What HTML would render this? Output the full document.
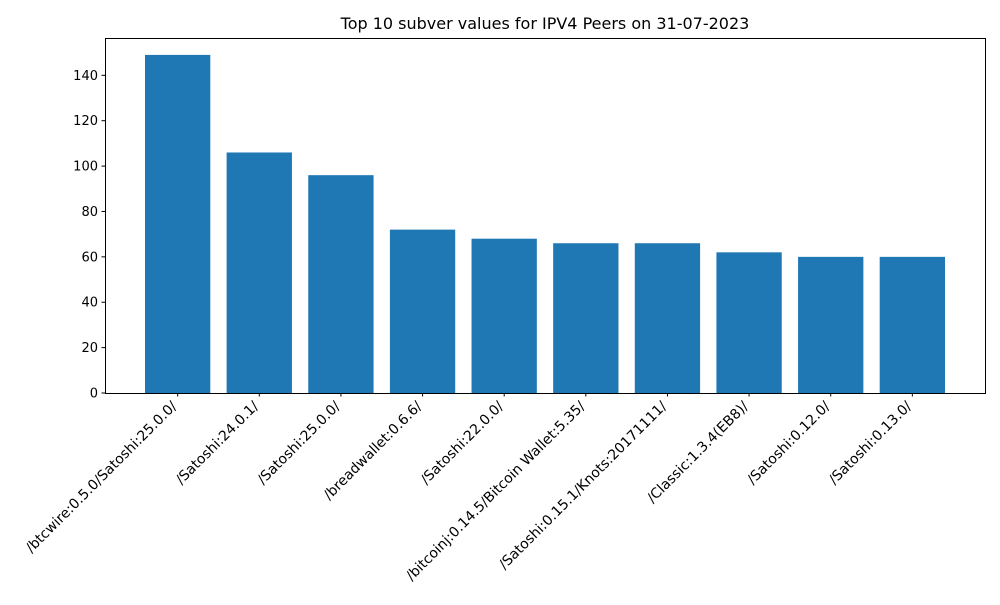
<!DOCTYPE html>
<html><head><meta charset="utf-8"><style>
body{margin:0;background:#fff;}
text{font-family:"DejaVu Sans","Liberation Sans",sans-serif;fill:#000;}
</style></head><body>
<svg id="chart" width="1000" height="600" xmlns="http://www.w3.org/2000/svg">
<text x="545" y="29" font-size="16" text-anchor="middle">Top 10 subver values for IPV4 Peers on 31-07-2023</text>
<g id="bars"></g><g id="yaxis"></g><g id="xaxis"></g>
<rect x="105.5" y="38.5" width="880" height="355" fill="none" stroke="#000" stroke-width="1"/>
</svg>
<script>
const categories=["/btcwire:0.5.0/Satoshi:25.0.0/","/Satoshi:24.0.1/","/Satoshi:25.0.0/","/breadwallet:0.6.6/","/Satoshi:22.0.0/","/bitcoinj:0.14.5/Bitcoin Wallet:5.35/","/Satoshi:0.15.1/Knots:20171111/","/Classic:1.3.4(EB8)/","/Satoshi:0.12.0/","/Satoshi:0.13.0/"];
const values=[149,106,96,72,68,66,66,62,60,60];
const yTicks=[0,20,40,60,80,100,120,140];
const NS="http://www.w3.org/2000/svg";
const plotL=105,plotR=985,plotT=38,plotB=393;
const yMax=Math.max(...values)*1.05;
const xMin=-0.89,xMax=categories.length-1+0.89;
const xs=i=>plotL+(i-xMin)/(xMax-xMin)*(plotR-plotL);
const ys=v=>plotB-v/yMax*(plotB-plotT);
const pxPer=(plotR-plotL)/(xMax-xMin);
function mk(t,a,p){const e=document.createElementNS(NS,t);for(const k in a)e.setAttribute(k,a[k]);p.appendChild(e);return e;}
const gb=document.getElementById('bars'),gy=document.getElementById('yaxis'),gx=document.getElementById('xaxis');
values.forEach((v,i)=>{
 const r=mk('rect',{x:xs(i)-0.4*pxPer,y:ys(v),width:0.8*pxPer,height:plotB-ys(v),fill:'#1f77b4'},gb);
 
 
});
yTicks.forEach(t=>{
 const y=ys(t);
 const l=mk('line',{x1:plotL-3.5,x2:plotL,y1:y,y2:y,stroke:'#000'},gy);
 
 
 const tx=mk('text',{x:plotL-7,y:y+4.5,'font-size':13,'text-anchor':'end'},gy);
 tx.textContent=t;
 
 
});
categories.forEach((c,i)=>{
 const x=xs(i);
 const l=mk('line',{x1:x,x2:x,y1:plotB,y2:plotB+3.5,stroke:'#000'},gx);
 
 
 const tx=mk('text',{x:0,y:0,'font-size':14,'text-anchor':'end',transform:`translate(${x},${plotB+14}) rotate(-45)`},gx);
 tx.textContent=c;
 
 
});
</script>
</body></html>
